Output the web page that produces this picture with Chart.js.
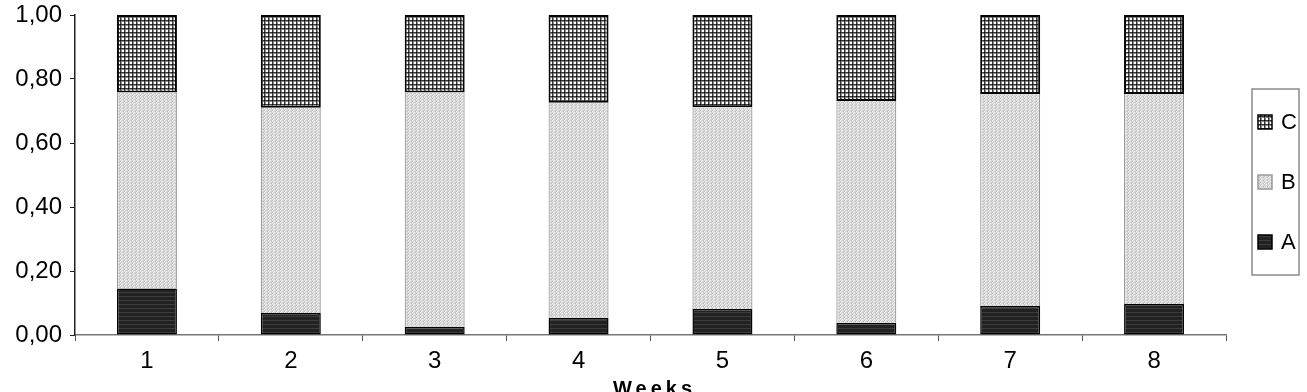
<!DOCTYPE html>
<html>
<head>
<meta charset="utf-8">
<script src="https://cdn.jsdelivr.net/npm/chart.js@4/dist/chart.umd.min.js"></script>
<style>
  html, body { margin: 0; padding: 0; background: #fff; }
  #wrap { width: 1307px; height: 392px; }
</style>
</head>
<body>
<div id="wrap"><canvas id="weeksChart" width="1307" height="392"></canvas></div>
<script>
// values (shares per week)
const weeks = ['1', '2', '3', '4', '5', '6', '7', '8'];
const seriesA = [0.145, 0.069, 0.026, 0.054, 0.081, 0.038, 0.091, 0.097];
const seriesB = [0.613, 0.641, 0.732, 0.672, 0.631, 0.693, 0.662, 0.656];
const seriesC = [0.242, 0.290, 0.242, 0.274, 0.288, 0.269, 0.247, 0.247];
const yTicks = [0, 0.2, 0.4, 0.6, 0.8, 1.0];

const FONT = "'Liberation Sans', Arial, sans-serif";

// small tile patterns, like the old spreadsheet fills
function makePattern(w, h, draw) {
    const c = document.createElement('canvas');
    c.width = w; c.height = h;
    const g = c.getContext('2d');
    draw(g);
    return g.createPattern(c, 'repeat') || '#888';
}

const patC = makePattern(4, 4, g => {
    g.fillStyle = '#ffffff'; g.fillRect(0, 0, 4, 4);
    g.fillStyle = '#8a8a8a';
    g.fillRect(0, 1, 4, 1);
    g.fillRect(1, 0, 1, 4);
    g.fillStyle = '#3a3a3a';
    g.fillRect(0, 0, 4, 1);
    g.fillRect(0, 0, 1, 4);
    g.fillStyle = '#000000'; g.fillRect(0, 0, 1, 1);
});
const patB = makePattern(4, 3, g => {
    g.fillStyle = '#d6d6d6'; g.fillRect(0, 0, 4, 3);
    g.fillStyle = '#f0f0f0';
    g.fillRect(0, 0, 1, 1); g.fillRect(2, 1, 1, 1); g.fillRect(1, 2, 1, 1);
    g.fillStyle = '#bdbdbd';
    g.fillRect(3, 0, 1, 1); g.fillRect(0, 2, 1, 1);
});
const patA = makePattern(4, 4, g => {
    g.fillStyle = '#222222'; g.fillRect(0, 0, 4, 4);
    g.fillStyle = '#3c3c3c'; g.fillRect(0, 0, 4, 1);
});

// legend box + axis title drawn by hand
const extras = {
    id: 'extras',
    afterDraw(chart) {
        const ctx = chart.ctx;
        ctx.save();
        // legend frame
        ctx.strokeStyle = '#8a8a8a';
        ctx.lineWidth = 1.5;
        ctx.strokeRect(1252, 89, 47, 186);
        const items = [
            { label: 'C', fill: patC, stroke: '#000', y: 122 },
            { label: 'B', fill: patB, stroke: '#999', y: 182 },
            { label: 'A', fill: patA, stroke: '#000', y: 242 }
        ];
        ctx.font = '22px ' + FONT;
        ctx.textAlign = 'left';
        ctx.textBaseline = 'middle';
        items.forEach(it => {
            ctx.fillStyle = it.fill;
            ctx.fillRect(1258, it.y - 7, 14, 14);
            ctx.strokeStyle = it.stroke;
            ctx.lineWidth = 1.5;
            ctx.strokeRect(1258, it.y - 7, 14, 14);
            ctx.fillStyle = '#000';
            ctx.fillText(it.label, 1281, it.y + 1);
        });
        // x axis title
        const area = chart.chartArea;
        ctx.font = 'bold 20px ' + FONT;
        ctx.letterSpacing = '4px';
        ctx.textAlign = 'center';
        ctx.textBaseline = 'alphabetic';
        ctx.fillStyle = '#000';
        ctx.fillText('Weeks', (area.left + area.right) / 2 + 4, 395);
        ctx.restore();
    }
};

const ctx = document.getElementById('weeksChart').getContext('2d');
const chart = new Chart(ctx, {
    type: 'bar',
    data: {
        labels: weeks,
        datasets: [
            {
                label: 'A',
                data: seriesA,
                backgroundColor: patA,
                borderColor: '#000',
                borderWidth: 1.5,
                borderSkipped: false
            },
            {
                label: 'B',
                data: seriesB,
                backgroundColor: patB,
                borderColor: '#9a9a9a',
                borderWidth: { top: 0, left: 1.2, right: 1.2, bottom: 0 },
                borderSkipped: false
            },
            {
                label: 'C',
                data: seriesC,
                backgroundColor: patC,
                borderColor: '#000',
                borderWidth: 2,
                borderSkipped: false
            }
        ]
    },
    options: {
        responsive: false,
        animation: false,
        devicePixelRatio: 1,
        layout: { padding: { top: 15, right: 81, bottom: 0, left: 0 } },
        datasets: {
            bar: { barPercentage: 1, categoryPercentage: 0.417 }
        },
        plugins: {
            legend: { display: false },
            tooltip: { enabled: false }
        },
        scales: {
            x: {
                stacked: true,
                afterFit: s => {
                    s.height = 57;
                    s.paddingLeft = 0;
                    s.paddingRight = 0;
                },
                grid: {
                    offset: true,
                    drawOnChartArea: false,
                    drawTicks: true,
                    tickLength: 6,
                    color: '#555'
                },
                border: { color: '#777', width: 1.5 },
                ticks: {
                    color: '#000',
                    padding: 6,
                    font: { family: FONT, size: 24 }
                }
            },
            y: {
                stacked: true,
                min: 0,
                max: 1,
                afterFit: s => {
                    s.width = 75;
                    s.paddingTop = 0;
                    s.paddingBottom = 0;
                },
                afterBuildTicks: s => { s.ticks = yTicks.map(v => ({ value: v })); },
                grid: {
                    drawOnChartArea: false,
                    drawTicks: true,
                    tickLength: 5,
                    color: '#222'
                },
                border: { color: '#222', width: 1.5 },
                ticks: {
                    color: '#000',
                    padding: 8,
                    font: { family: FONT, size: 24 },
                    callback: v => v.toFixed(2).replace('.', ',')
                }
            }
        }
    },
    plugins: [extras]
});
</script>
</body>
</html>
